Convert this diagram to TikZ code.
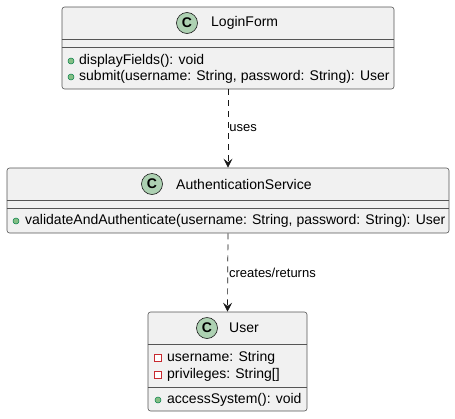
\documentclass[tikz,border=0pt]{standalone}
\usepackage{fontspec}
\setmainfont{Liberation Sans}
\usetikzlibrary{arrows.meta}
\definecolor{boxfill}{HTML}{F1F1F1}
\definecolor{boxline}{HTML}{555555}
\definecolor{arrowline}{HTML}{181818}
\definecolor{spotfill}{HTML}{ADD1B2}
\definecolor{pubfill}{HTML}{84BE84}
\definecolor{publine}{HTML}{038048}
\definecolor{privline}{HTML}{C82930}

\begin{document}
\begin{tikzpicture}[x=1pt, y=-1pt,
        classbox/.style={draw=boxline, fill=boxfill, rounded corners=2.5pt, line width=0.6pt, inner sep=0pt},
        sepline/.style={draw=boxline, line width=0.6pt},
        spot/.style={circle, draw=arrowline, fill=spotfill, line width=0.6pt, minimum size=21pt, inner sep=0pt, font=\bfseries\fontsize{14}{14}\selectfont},
        cname/.style={anchor=west, inner sep=0pt, font=\fontsize{14}{14}\selectfont},
        member/.style={anchor=west, inner sep=0pt, font=\fontsize{14}{14}\selectfont},
        pub/.style={circle, draw=publine, fill=pubfill, line width=0.5pt, minimum size=6pt, inner sep=0pt},
        priv/.style={rectangle, draw=privline, fill=white, line width=0.7pt, minimum size=6.5pt, inner sep=0pt},
        dep/.style={draw=arrowline, line width=0.7pt, dash pattern=on 6pt off 5pt, -{Stealth[length=9pt, width=9pt, inset=3.5pt]}},
        lbl/.style={anchor=west, inner sep=1pt, font=\fontsize{13}{13}\selectfont}]

    \useasboundingbox (0,0) rectangle (455,418);

    % LoginForm
    \node[classbox, minimum width=332pt, minimum height=82pt] (login) at (228,48) {};
    \draw[sepline] (login.west |- 0,39) -- (login.east |- 0,39);
    \draw[sepline] (login.west |- 0,47) -- (login.east |- 0,47);
    \node[spot] (loginspot) at (187,23) {C};
    \node[cname] (loginname) at (211,23) {LoginForm};
    \node[pub] (loginb1) at (71,61) {};
    \node[member] (loginm1) at (79,61) {displayFields(): void};
    \node[pub] (loginb2) at (71,77) {};
    \node[member] (loginm2) at (79,77) {submit(username: String, password: String): User};

    % AuthenticationService
    \node[classbox, minimum width=442pt, minimum height=65pt] (auth) at (228,200.5) {};
    \draw[sepline] (auth.west |- 0,200) -- (auth.east |- 0,200);
    \draw[sepline] (auth.west |- 0,208) -- (auth.east |- 0,208);
    \node[spot] (authspot) at (152,184) {C};
    \node[cname] (authname) at (176,184) {AuthenticationService};
    \node[pub] (authb1) at (16,221) {};
    \node[member] (authm1) at (25,221) {validateAndAuthenticate(username: String, password: String): User};

    % User
    \node[classbox, minimum width=159pt, minimum height=99pt] (user) at (227.5,361.5) {};
    \draw[sepline] (user.west |- 0,344) -- (user.east |- 0,344);
    \draw[sepline] (user.west |- 0,387) -- (user.east |- 0,387);
    \node[spot] (userspot) at (207,328) {C};
    \node[cname] (username) at (229,328) {User};
    \node[priv] (userb1) at (158,358) {};
    \node[member] (userm1) at (167,358) {username: String};
    \node[priv] (userb2) at (158,375) {};
    \node[member] (userm2) at (167,375) {privileges: String[]};
    \node[pub] (userb3) at (158,400) {};
    \node[member] (userm3) at (167,400) {accessSystem(): void};

    % relations
    \draw[dep] (auth.north |- login.south) -- node[lbl] (uses) {uses} (auth.north);
    \draw[dep] (auth.south) -- node[lbl] (creates) {creates/returns} (user.north);
\end{tikzpicture}
\end{document}
